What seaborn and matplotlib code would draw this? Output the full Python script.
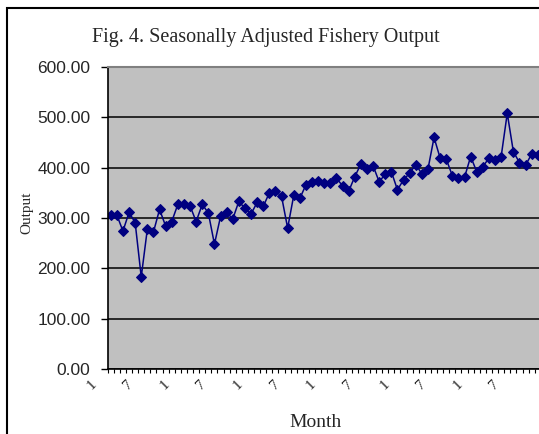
import numpy as np
import pandas as pd
import matplotlib
matplotlib.use('Agg')
import matplotlib.pyplot as plt
import matplotlib.transforms as mtransforms
from matplotlib.patches import Rectangle
from matplotlib.ticker import FormatStrFormatter, FixedLocator
import seaborn as sns

# Monthly seasonally adjusted output
months = np.arange(1, 72)
output = [305, 306, 274, 311, 291, 183, 278, 272, 317, 284,
          293, 327, 327, 324, 293, 327, 310, 248, 303, 311,
          298, 333, 319, 308, 331, 323, 350, 354, 343, 280,
          345, 339, 366, 371, 374, 370, 369, 379, 364, 353,
          382, 407, 397, 404, 372, 387, 392, 356, 376, 389,
          406, 388, 397, 460, 419, 417, 384, 379, 381, 422,
          392, 402, 419, 415, 422, 508, 432, 410, 405, 427,
          425]
y_ticks = [0, 100, 200, 300, 400, 500, 600]

df = pd.DataFrame({'Month': months, 'Output': output})

sns.set_style('ticks')
plt.rcParams['font.family'] = ['Liberation Sans', 'DejaVu Sans']

fig = plt.figure(figsize=(5.39, 4.34), dpi=100)
# axes runs past the right edge of the picture, like the cropped original
ax = fig.add_axes([0.1998, 0.1498, 0.9054, 0.6958])

sns.lineplot(data=df, x='Month', y='Output', ax=ax, color='#000080',
             linewidth=1.1, marker='D', markersize=4.7,
             markeredgecolor='#000080', markerfacecolor='#000080')

ax.set_facecolor('#C0C0C0')
ax.set_xlim(0.5, 80.5)
ax.set_ylim(0, 600)
ax.set_yticks(y_ticks)
ax.yaxis.set_major_formatter(FormatStrFormatter('%.2f'))
ax.grid(axis='y', color='black', linewidth=1.1)
ax.grid(axis='x', visible=False)
ax.set_axisbelow(True)

# x labels: month of year, every 6th category; tick marks between categories
tick_pos = months[::6]
tick_lab = [str((m - 1) % 12 + 1) for m in tick_pos]
ax.xaxis.set_major_locator(FixedLocator(tick_pos))
ax.set_xticklabels(tick_lab, rotation=45, ha='center', va='center',
                   fontfamily='Liberation Serif', fontsize=11)
ax.xaxis.set_minor_locator(FixedLocator(np.arange(0.5, 81, 1)))
ax.tick_params(axis='x', which='major', length=0, pad=11.5)
ax.tick_params(axis='x', which='minor', length=3, width=0.8, color='black')
ax.tick_params(axis='y', length=5, width=1, color='black', pad=7.5,
               labelsize=12.5)
offset = mtransforms.ScaledTranslation(-0.19, 0, fig.dpi_scale_trans)
for lab in ax.get_xticklabels():
    lab.set_transform(lab.get_transform() + offset)

ax.set_xlabel('')
ax.set_ylabel('')
for side in ['left', 'bottom']:
    ax.spines[side].set_color('black')
    ax.spines[side].set_linewidth(1.2)
ax.spines['top'].set_color('#808080')
ax.spines['top'].set_linewidth(1.5)

fig.text(0.4935, 0.9025, 'Fig. 4. Seasonally Adjusted Fishery Output',
         ha='center', va='baseline', fontfamily='Liberation Serif',
         fontsize=14.5)
fig.text(0.586, 0.0154, 'Month', ha='center', va='baseline',
         fontfamily='Liberation Serif', fontsize=14)
fig.text(0.050, 0.509, 'Output', ha='center', va='center', rotation=90,
         fontfamily='Liberation Serif', fontsize=11)

# outer chart border, cropped at right and bottom
fig.add_artist(Rectangle((7 / 539, -0.5), 2, 0.5 + 1 - 8 / 434, fill=False,
                         edgecolor='black', linewidth=1.5,
                         transform=fig.transFigure))

fig.savefig('out.png', dpi=100)
